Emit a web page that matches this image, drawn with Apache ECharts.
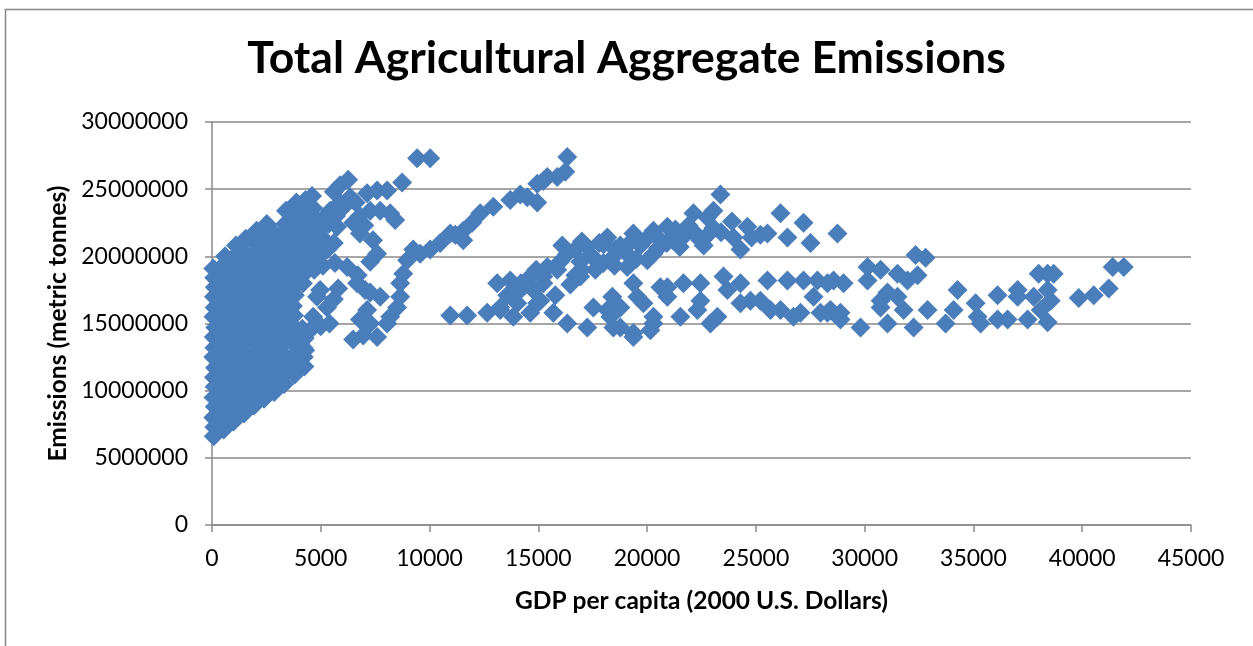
<!DOCTYPE html>
<html>
<head>
<meta charset="utf-8">
<script src="https://cdn.jsdelivr.net/npm/echarts@6/dist/echarts.min.js"></script>
<style>
  html, body { margin: 0; padding: 0; background: #fff; }
  #chart { width: 1253px; height: 646px; }
</style>
</head>
<body>
<div id="chart"></div>
<script>
// GDP per capita (2000 U.S. $) vs. total agricultural emissions (metric tonnes)

// Low-income economies: dense block under 5000 $
const lowIncomeCore = [
  [80, 6.6e6], [110, 7.3e6], [60, 8.0e6], [130, 8.8e6], [70, 9.5e6], [120, 10.3e6], [90, 11.0e6], [140, 11.7e6], [60, 12.5e6],
  [110, 13.2e6], [80, 14.0e6], [150, 14.7e6], [70, 15.5e6], [120, 16.2e6], [90, 17.0e6], [130, 17.7e6], [100, 18.4e6], [60, 19.1e6],
  [540, 7.1e6], [510, 7.9e6], [570, 8.7e6], [490, 9.4e6], [550, 10.2e6], [520, 11.0e6], [580, 11.8e6], [500, 12.5e6], [530, 13.3e6],
  [560, 14.0e6], [490, 14.8e6], [540, 15.5e6], [510, 16.3e6], [570, 17.0e6], [520, 17.8e6], [550, 18.5e6], [500, 19.3e6], [600, 20.0e6],
  [990, 7.7e6], [960, 8.5e6], [1020, 9.3e6], [950, 10.0e6], [1010, 10.8e6], [980, 11.5e6], [1040, 12.3e6], [970, 13.1e6], [1000, 13.9e6],
  [940, 14.6e6], [1030, 15.4e6], [990, 16.1e6], [960, 16.9e6], [1020, 17.6e6], [970, 18.4e6], [1010, 19.1e6], [980, 19.9e6], [1100, 20.8e6],
  [1470, 8.3e6], [1440, 9.1e6], [1500, 9.9e6], [1420, 10.6e6], [1480, 11.4e6], [1450, 12.1e6], [1410, 12.9e6], [1490, 13.6e6], [1460, 14.4e6],
  [1430, 15.1e6], [1500, 15.9e6], [1450, 16.6e6], [1420, 17.4e6], [1480, 18.1e6], [1440, 18.9e6], [1470, 19.6e6], [1410, 20.4e6], [1550, 21.3e6],
  [1930, 8.9e6], [1900, 9.6e6], [1960, 10.4e6], [1880, 11.2e6], [1940, 12.0e6], [1910, 12.7e6], [1970, 13.5e6], [1890, 14.2e6], [1950, 15.0e6],
  [1920, 15.7e6], [1880, 16.5e6], [1960, 17.2e6], [1900, 18.0e6], [1940, 18.7e6], [1870, 19.5e6], [1930, 20.2e6], [1960, 21.0e6], [2050, 21.9e6],
  [2390, 9.4e6], [2420, 10.1e6], [2360, 10.9e6], [2430, 11.7e6], [2380, 12.5e6], [2400, 13.2e6], [2350, 14.0e6], [2440, 14.7e6], [2370, 15.5e6],
  [2410, 16.2e6], [2360, 17.0e6], [2430, 17.7e6], [2380, 18.5e6], [2420, 19.2e6], [2350, 20.0e6], [2400, 20.7e6], [2370, 21.5e6], [2520, 22.4e6],
  [2860, 9.9e6], [2830, 10.6e6], [2890, 11.4e6], [2810, 12.1e6], [2870, 12.9e6], [2840, 13.6e6], [2900, 14.4e6], [2820, 15.1e6], [2870, 15.9e6],
  [2850, 16.6e6], [2810, 17.4e6], [2880, 18.1e6], [2830, 18.9e6], [2900, 19.6e6], [2840, 20.4e6], [2820, 21.1e6], [2880, 21.7e6],
  [3320, 10.5e6], [3290, 11.2e6], [3340, 12.0e6], [3270, 12.7e6], [3330, 13.5e6], [3300, 14.2e6], [3350, 15.0e6], [3280, 15.7e6], [3330, 16.5e6],
  [3300, 17.2e6], [3260, 18.0e6], [3340, 18.7e6], [3290, 19.5e6], [3350, 20.2e6], [3280, 21.0e6], [3330, 21.7e6], [3360, 22.4e6], [3400, 23.4e6],
  [3800, 11.2e6], [3760, 11.9e6], [3750, 12.6e6], [3810, 13.4e6], [3790, 14.1e6], [3740, 14.8e6], [3770, 15.6e6], [3720, 16.3e6], [3810, 17.1e6],
  [3750, 17.8e6], [3760, 18.6e6], [3800, 19.3e6], [3820, 20.1e6], [3760, 20.8e6], [3730, 21.6e6], [3780, 22.3e6], [3790, 23.1e6], [3880, 24.0e6],
  [4250, 11.8e6], [4220, 12.5e6], [4200, 13.2e6], [4260, 13.9e6], [4150, 14.6e6], [4180, 18.0e6], [4240, 18.7e6], [4260, 19.5e6],
  [4200, 20.2e6], [4220, 21.0e6], [4270, 21.7e6], [4240, 22.5e6], [4180, 23.3e6], [4300, 24.2e6],
  [4700, 19.0e6], [4660, 19.8e6], [4720, 20.6e6], [4680, 21.3e6], [4640, 22.0e6], [4700, 22.8e6], [4650, 23.6e6], [4600, 24.5e6]
];

// Middle-income paths between 4000 and 11000 $
const midIncomePaths = [
  [9430, 27.3e6], [10030, 27.3e6], [6260, 25.7e6], [5890, 25.3e6], [8740, 25.5e6], [8050, 24.9e6], [7590, 24.9e6],
  [7130, 24.7e6], [6350, 24.4e6], [5890, 24.0e6], [5430, 23.4e6], [4830, 22.7e6], [5290, 23.1e6], [8190, 23.2e6],
  [7730, 23.4e6], [7270, 23.4e6], [8420, 22.7e6], [6490, 22.5e6], [5750, 22.2e6], [6800, 21.7e6], [7400, 21.2e6],
  [7590, 20.2e6], [7270, 19.6e6], [5000, 21.5e6], [5300, 20.5e6], [4900, 20.0e6], [5600, 21.0e6],
  [5100, 21.2e6], [5000, 22.2e6], [5350, 22.4e6], [5700, 23.0e6], [6000, 23.6e6], [6600, 24.0e6], [6800, 23.0e6],
  [7000, 22.3e6], [5600, 24.8e6],
  [5100, 19.3e6], [5650, 19.5e6], [6210, 19.2e6], [6700, 18.6e6],
  [6670, 18.0e6], [7040, 17.5e6], [7270, 17.3e6], [7730, 17.0e6], [7130, 16.0e6], [6800, 15.3e6], [7270, 15.0e6],
  [6490, 13.8e6], [7590, 14.0e6], [6950, 14.1e6],
  [4830, 17.0e6], [5290, 16.2e6], [4650, 15.5e6], [4510, 14.5e6], [4050, 13.5e6], [4970, 17.5e6], [4280, 13.0e6],
  [5600, 16.8e6], [5400, 15.0e6], [5800, 17.6e6], [5000, 14.8e6],
  [8050, 15.0e6], [8190, 15.5e6], [8510, 16.2e6], [8650, 17.0e6], [8650, 18.0e6], [8790, 18.7e6], [8970, 19.7e6],
  [9250, 20.5e6], [9570, 20.2e6], [10030, 20.5e6], [10490, 21.0e6], [10950, 21.7e6]
];

// Upper-middle path climbing from 11000 to 16500 $
const risingPath = [
  [11180, 21.6e6], [11550, 21.9e6], [11550, 21.2e6], [11960, 22.5e6], [12330, 23.2e6], [12930, 23.7e6], [13710, 24.2e6],
  [14170, 24.6e6], [14490, 24.4e6], [14950, 24.0e6], [14950, 25.4e6], [15230, 25.6e6], [15410, 25.9e6], [15870, 25.9e6],
  [16240, 26.3e6], [16330, 27.4e6]
];

// High-income economies, upper band
const highIncomeUpper = [
  [13110, 18.0e6], [13710, 18.2e6], [14630, 18.5e6], [15230, 18.5e6], [15410, 19.2e6], [15870, 19.0e6], [16330, 20.2e6],
  [16700, 18.6e6], [16930, 19.6e6], [17250, 20.7e6], [17390, 20.1e6], [17990, 19.5e6], [18170, 21.4e6], [18540, 20.5e6],
  [18770, 20.8e6], [19090, 19.2e6], [19370, 21.7e6], [19690, 20.8e6], [20010, 19.7e6], [20290, 21.9e6], [20610, 21.2e6],
  [20930, 22.2e6], [21210, 21.2e6], [21760, 21.6e6], [22130, 23.2e6], [22450, 21.2e6], [22770, 22.9e6], [23050, 23.4e6],
  [23370, 24.6e6], [23050, 22.1e6], [23970, 21.4e6], [24290, 20.5e6], [24610, 22.2e6], [25210, 21.6e6], [25530, 21.7e6],
  [26130, 23.2e6], [26450, 21.4e6], [27190, 22.5e6], [27510, 21.0e6], [28750, 21.7e6],
  [16000, 19.6e6], [16700, 20.5e6], [17600, 19.8e6], [18400, 19.9e6], [19000, 20.3e6], [19900, 21.2e6], [20500, 20.6e6],
  [21300, 22.0e6], [21900, 22.3e6], [22800, 21.6e6], [17000, 21.1e6], [18000, 20.9e6], [14200, 18.0e6], [14900, 19.0e6],
  [16100, 20.8e6], [17000, 19.0e6], [17800, 21.0e6], [18500, 19.3e6], [19200, 21.0e6], [19500, 19.8e6], [20300, 20.2e6],
  [20900, 21.0e6], [21500, 20.7e6], [22100, 21.9e6], [22600, 20.8e6], [23400, 21.8e6], [23900, 22.6e6], [24800, 21.4e6]
];

// High-income economies, lower band
const highIncomeLower = [
  [10950, 15.6e6], [11730, 15.6e6], [12650, 15.8e6], [13250, 16.0e6], [13850, 15.5e6], [14630, 15.8e6], [14950, 16.5e6],
  [15690, 15.8e6], [16330, 15.0e6], [17250, 14.7e6], [17530, 16.2e6], [18310, 15.5e6], [18770, 14.7e6], [19370, 14.0e6],
  [20150, 14.5e6], [20290, 15.5e6], [21530, 15.5e6], [22310, 16.0e6], [22910, 15.0e6], [24750, 16.7e6], [25670, 16.0e6],
  [26730, 15.5e6], [27650, 17.0e6], [28290, 15.8e6],
  [13250, 16.2e6], [13570, 17.1e6], [14030, 16.5e6], [14170, 17.5e6], [14770, 17.5e6], [15230, 18.0e6], [15090, 16.7e6],
  [15780, 17.1e6], [16470, 17.9e6], [16930, 18.5e6], [17620, 19.0e6],
  [18400, 17.0e6], [19370, 18.0e6], [19550, 17.0e6], [20610, 17.7e6], [20930, 17.7e6], [21670, 18.0e6], [22450, 18.0e6],
  [23510, 18.5e6], [23690, 17.5e6], [24290, 18.0e6], [25530, 18.2e6], [26450, 18.2e6], [27190, 18.2e6], [27830, 18.2e6],
  [28570, 18.2e6],
  [18170, 16.0e6], [18770, 16.2e6], [19830, 16.5e6], [18450, 14.7e6], [19370, 14.3e6], [20290, 15.0e6], [20930, 17.0e6],
  [22450, 16.7e6], [23230, 15.5e6], [24290, 16.5e6], [25210, 16.7e6], [26130, 16.0e6], [27050, 15.8e6], [27970, 15.8e6],
  [28890, 15.8e6], [29810, 14.7e6], [30730, 16.7e6], [31050, 15.0e6],
  [28290, 18.0e6], [29030, 18.0e6], [28430, 16.0e6], [28890, 15.3e6], [30130, 19.2e6], [30130, 18.2e6], [30730, 19.0e6],
  [31510, 18.7e6], [31050, 17.3e6], [31510, 17.0e6], [30730, 16.2e6], [31790, 16.0e6], [32340, 20.1e6], [32800, 19.9e6],
  [32430, 18.6e6], [31970, 18.2e6], [32250, 14.7e6], [32890, 16.0e6], [33720, 15.0e6], [34090, 16.0e6], [34270, 17.5e6],
  [35100, 16.5e6], [35330, 15.0e6], [35190, 15.5e6], [36110, 17.1e6], [36110, 15.3e6], [36570, 15.3e6], [37030, 17.5e6],
  [37030, 17.0e6], [37490, 15.3e6], [37770, 17.0e6], [38000, 18.7e6], [38410, 18.7e6], [38690, 18.7e6], [38410, 17.5e6],
  [38550, 16.7e6], [38090, 16.0e6], [38410, 15.1e6], [39840, 16.9e6], [40530, 17.1e6], [41220, 17.6e6], [41400, 19.2e6],
  [41910, 19.2e6]
];

const titleText = 'Total Agricultural Aggregate Emissions';
const xAxisTitle = 'GDP per capita (2000 U.S. Dollars)';
const yAxisTitle = 'Emissions (metric tonnes)';

const allPoints = [].concat(lowIncomeCore, midIncomePaths, risingPath, highIncomeUpper, highIncomeLower);

const FONT = 'Lato, "Open Sans", sans-serif';
const GRID_GREY = '#8a8a8a';
const plainNumber = v => String(v);

const chart = echarts.init(document.getElementById('chart'), null, { renderer: 'canvas' });
chart.setOption({
  animation: false,
  backgroundColor: '#ffffff',
  title: {
    text: titleText,
    left: 'center',
    top: 31,
    textStyle: { fontFamily: FONT, fontSize: 44.5, fontWeight: 'bold', color: '#000' }
  },
  graphic: [{
    type: 'rect',
    shape: { x: 5.5, y: 9.5, width: 1400, height: 800 },
    style: { fill: 'none', stroke: '#868686', lineWidth: 1.5 },
    silent: true
  }],
  grid: { left: 212, right: 62, top: 122, bottom: 121, containLabel: false },
  xAxis: {
    type: 'value',
    min: 0, max: 45000, interval: 5000,
    name: xAxisTitle,
    nameLocation: 'middle',
    nameGap: 64,
    nameTextStyle: { fontFamily: FONT, fontSize: 24.5, fontWeight: 'bold', color: '#000' },
    axisLine: { show: true, lineStyle: { color: GRID_GREY, width: 1.5 } },
    axisTick: { show: true, length: 7, lineStyle: { color: GRID_GREY, width: 1.5 } },
    axisLabel: { fontFamily: FONT, fontSize: 23, color: '#000', margin: 22, formatter: plainNumber },
    splitLine: { show: false }
  },
  yAxis: {
    type: 'value',
    min: 0, max: 30000000, interval: 5000000,
    name: yAxisTitle,
    nameLocation: 'middle',
    nameRotate: 90,
    nameGap: 130,
    nameTextStyle: { fontFamily: FONT, fontSize: 24.5, fontWeight: 'bold', color: '#000' },
    axisLine: { show: true, lineStyle: { color: GRID_GREY, width: 1.5 } },
    axisTick: { show: true, length: 7, lineStyle: { color: GRID_GREY, width: 1.5 } },
    axisLabel: { fontFamily: FONT, fontSize: 23, color: '#000', margin: 24, formatter: plainNumber },
    splitLine: { show: true, lineStyle: { color: GRID_GREY, width: 1.5 } }
  },
  series: [{
    type: 'scatter',
    symbol: 'diamond',
    symbolSize: 20,
    itemStyle: { color: '#4a7ebb', opacity: 1 },
    data: allPoints
  }]
});
</script>
</body>
</html>
